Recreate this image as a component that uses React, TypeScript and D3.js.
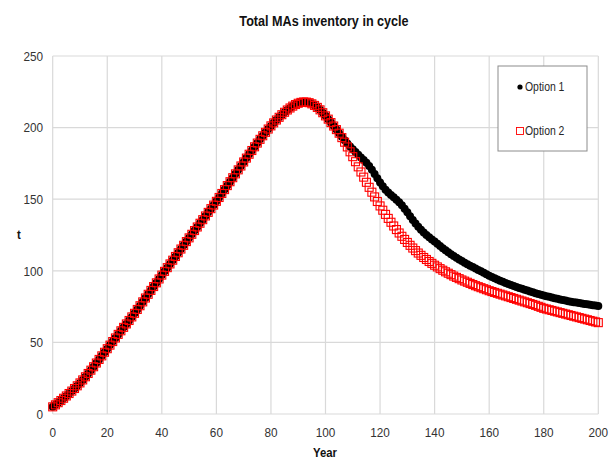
import React from "react";
import * as d3 from "d3";

// ---- data ----
const title = "Total MAs inventory in cycle";
const xLabel = "Year";
const yLabel = "t";
const xTicks = [0, 20, 40, 60, 80, 100, 120, 140, 160, 180, 200];
const yTicks = [0, 50, 100, 150, 200, 250];
const seriesNames = ["Option 1", "Option 2"];

// years 0..105 — both options coincide
const sharedValues = [
  5.0, 6.4, 7.9, 9.4, 11.0, 12.6, 14.3, 16.0, 17.8, 19.7,
  21.7, 23.8, 26.0, 28.3, 30.6, 33.0, 35.6, 38.1, 40.6, 43.1,
  45.6, 48.1, 50.6, 53.1, 55.6, 58.1, 60.5, 62.9, 65.3, 67.8,
  70.3, 73.0, 75.6, 78.3, 81.0, 83.6, 86.3, 89.0, 91.6, 94.3,
  97.0, 99.6, 102.2, 104.8, 107.4, 110.0, 112.6, 115.2, 117.8, 120.4,
  123.0, 125.5, 128.1, 130.6, 133.2, 135.7, 138.3, 140.8, 143.4, 145.9,
  148.5, 151.2, 154.0, 156.7, 159.5, 162.2, 165.0, 167.7, 170.5, 173.2,
  176.0, 178.7, 181.4, 184.0, 186.6, 189.2, 191.8, 194.3, 196.7, 199.0,
  201.2, 203.3, 205.3, 207.2, 209.0, 210.7, 212.3, 213.7, 215.0, 216.1,
  217.0, 217.6, 217.9, 217.8, 217.4, 216.6, 215.5, 214.1, 212.4, 210.4,
  208.2, 205.9, 203.5, 201.1, 198.6, 196.1,
];

// years 106..200
const option1Tail = [
  193.6, 191.2, 188.9, 186.8, 184.8, 182.9, 181.0, 179.2, 177.4, 175.5,
  173.2, 170.5, 167.6, 164.6, 161.7, 159.0, 156.6, 154.6, 152.9, 151.3,
  149.7, 147.9, 145.8, 143.4, 140.8, 138.1, 135.5, 133.0, 130.7, 128.6,
  126.7, 125.0, 123.4, 121.9, 120.5, 118.9, 117.3, 115.8, 114.3, 112.9,
  111.6, 110.3, 109.1, 107.9, 106.8, 105.7, 104.6, 103.6, 102.6, 101.6,
  100.6, 99.6, 98.6, 97.6, 96.6, 95.7, 94.8, 93.9, 93.1, 92.3,
  91.5, 90.8, 90.1, 89.4, 88.7, 88.0, 87.4, 86.8, 86.2, 85.6,
  85.0, 84.4, 83.8, 83.3, 82.8, 82.3, 81.8, 81.3, 80.8, 80.4,
  80.0, 79.6, 79.2, 78.8, 78.4, 78.1, 77.8, 77.5, 77.2, 76.9,
  76.6, 76.3, 76.0, 75.7, 75.4,
];

const option2Tail = [
  193.0, 189.8, 186.5, 183.1, 179.7, 176.2, 172.6, 169.0, 165.4, 161.8,
  158.3, 154.9, 151.6, 148.4, 145.3, 142.3, 139.4, 136.6, 133.9, 131.3,
  128.8, 126.4, 124.1, 121.9, 119.8, 117.8, 115.9, 114.1, 112.4, 110.8,
  109.3, 107.9, 106.5, 105.2, 103.9, 102.7, 101.5, 100.4, 99.3, 98.3,
  97.3, 96.3, 95.4, 94.5, 93.6, 92.8, 92.0, 91.2, 90.4, 89.6,
  88.9, 88.2, 87.5, 86.8, 86.1, 85.5, 84.9, 84.3, 83.7, 83.1,
  82.5, 81.9, 81.3, 80.7, 80.1, 79.5, 78.9, 78.3, 77.7, 77.1,
  76.5, 75.9, 75.2, 74.5, 73.8, 73.3, 72.8, 72.3, 71.8, 71.3,
  70.8, 70.3, 69.8, 69.3, 68.8, 68.3, 67.8, 67.3, 66.8, 66.3,
  65.8, 65.3, 64.8, 64.3, 63.8,
];

const option1 = sharedValues.concat(option1Tail);
const option2 = sharedValues.concat(option2Tail);

const W = 609;
const H = 463;
const FONT = "'Liberation Sans', Arial, sans-serif";
const SX = 0.87; // horizontal squeeze of the reference's lettering

function Txt(props: {
  x: number;
  y: number;
  size: number;
  anchor?: string;
  weight?: string;
  fill?: string;
  children: React.ReactNode;
}) {
  const { x, y, size, anchor = "start", weight = "normal", fill = "#333", children } = props;
  return (
    <text
      transform={`translate(${x},${y}) scale(${SX},1)`}
      fontSize={size}
      fontFamily={FONT}
      fontWeight={weight}
      textAnchor={anchor}
      fill={fill}
    >
      {children}
    </text>
  );
}

export default function App() {
  const x = d3.scaleLinear().domain([0, 200]).range([52.7, 598.3]);
  const y = d3.scaleLinear().domain([0, 250]).range([414, 56]);
  const years = d3.range(option1.length);
  const grid = "#d9d9d9";
  const sq = 8;

  return (
    <svg
      width={W}
      height={H}
      style={{ position: "absolute", left: 0, top: 0, background: "#fff" }}
    >
      <rect x={0} y={0} width={W} height={H} fill="#fff" />
      {/* grid */}
      {yTicks.map((t) => (
        <line key={"gy" + t} x1={x(0)} x2={x(200)} y1={y(t)} y2={y(t)} stroke={grid} strokeWidth={1.2} />
      ))}
      {xTicks.map((t) => (
        <line key={"gx" + t} x1={x(t)} x2={x(t)} y1={y(0)} y2={y(250)} stroke={grid} strokeWidth={1.2} />
      ))}
      {/* tick labels */}
      {yTicks.map((t) => (
        <Txt key={"ly" + t} x={43} y={y(t) + 4.8} size={13.5} anchor="end">
          {t}
        </Txt>
      ))}
      {xTicks.map((t) => (
        <Txt key={"lx" + t} x={x(t)} y={437} size={13.5} anchor="middle">
          {t}
        </Txt>
      ))}
      {/* titles */}
      <Txt x={324} y={26} size={14.5} anchor="middle" weight="bold" fill="#111">
        {title}
      </Txt>
      <Txt x={325} y={457} size={13} anchor="middle" weight="bold" fill="#111">
        {xLabel}
      </Txt>
      <Txt x={19} y={239} size={13} anchor="middle" weight="bold" fill="#111">
        {yLabel}
      </Txt>
      {/* series 1: black filled circles */}
      <g>
        {years.map((i) => (
          <circle key={"a" + i} cx={x(i)} cy={y(option1[i])} r={4} fill="#000" />
        ))}
      </g>
      {/* series 2: red hollow squares */}
      <g>
        {years.map((i) => (
          <rect
            key={"b" + i}
            x={x(i) - sq / 2}
            y={y(option2[i]) - sq / 2}
            width={sq}
            height={sq}
            fill="none"
            stroke="#ff0000"
            strokeWidth={1.1}
          />
        ))}
      </g>
      {/* legend */}
      <rect x={498} y={66} width={89} height={85} fill="#fff" stroke="#8c8c8c" strokeWidth={1} />
      <circle cx={520} cy={87} r={2.6} fill="#000" />
      <Txt x={525} y={91} size={12} fill="#262626">
        {seriesNames[0]}
      </Txt>
      <rect x={516.5} y={127.5} width={7} height={7} fill="none" stroke="#ff0000" strokeWidth={0.9} />
      <Txt x={525} y={135} size={12} fill="#262626">
        {seriesNames[1]}
      </Txt>
    </svg>
  );
}
